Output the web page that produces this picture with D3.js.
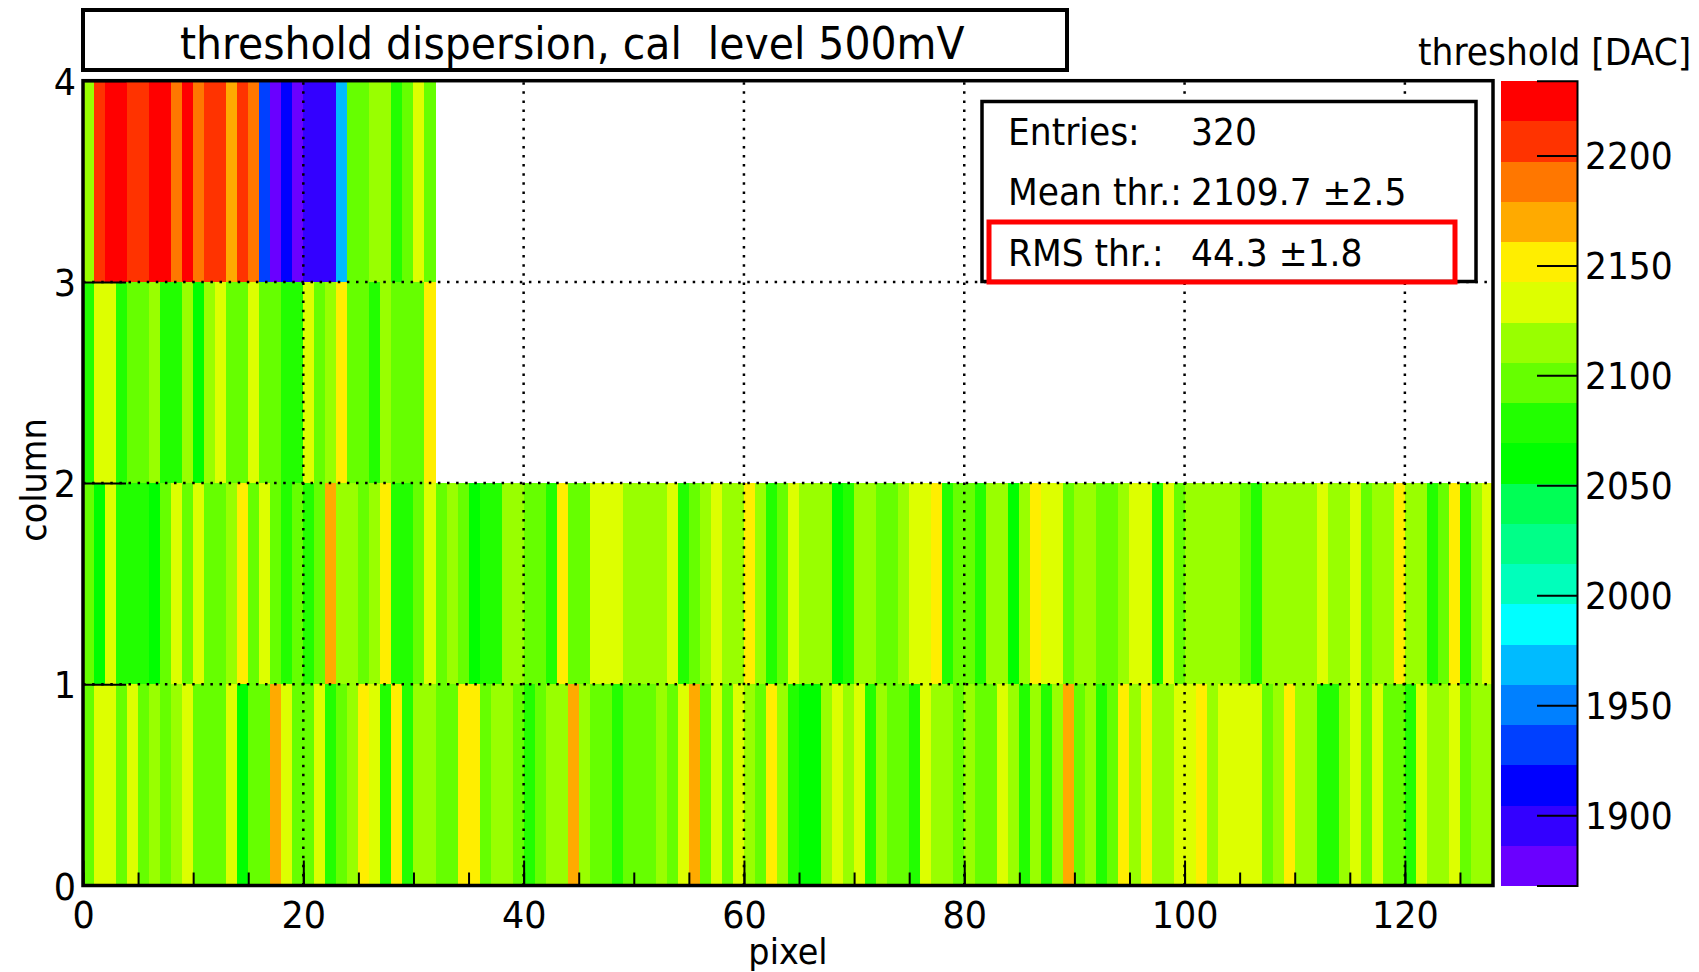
<!DOCTYPE html>
<html>
<head>
<meta charset="utf-8">
<script src="https://cdnjs.cloudflare.com/ajax/libs/d3/7.8.5/d3.min.js"></script>
<style>
  html, body { margin: 0; padding: 0; background: #fff; }
  svg { display: block; }
  text { font-family: "DejaVu Sans", sans-serif; fill: #000; white-space: pre; }
</style>
</head>
<body>
<svg id="chart" width="1699" height="972"></svg>
<script>
// thresholds in DAC, one list per column, index = pixel
const column0 = [
  2097, 2133, 2133, 2097, 2133, 2097, 2115, 2097, 2115, 2133,
  2097, 2097, 2097, 2133, 2060, 2097, 2097, 2170, 2133, 2097,
  2097, 2133, 2078, 2097, 2115, 2151, 2133, 2078, 2151, 2078,
  2115, 2115, 2097, 2097, 2151, 2151, 2097, 2115, 2115, 2097,
  2078, 2097, 2115, 2115, 2170, 2115, 2097, 2097, 2078, 2097,
  2097, 2097, 2115, 2097, 2133, 2170, 2097, 2133, 2097, 2133,
  2115, 2097, 2151, 2115, 2078, 2060, 2060, 2115, 2133, 2115,
  2133, 2078, 2115, 2097, 2097, 2078, 2133, 2115, 2115, 2097,
  2115, 2097, 2097, 2133, 2115, 2078, 2115, 2078, 2115, 2170,
  2097, 2115, 2078, 2097, 2151, 2115, 2151, 2115, 2115, 2133,
  2133, 2151, 2115, 2133, 2133, 2133, 2133, 2097, 2115, 2151,
  2115, 2115, 2078, 2078, 2115, 2133, 2097, 2133, 2097, 2097,
  2078, 2133, 2115, 2115, 2133, 2097, 2115, 2115
];
const column1 = [
  2097, 2060, 2133, 2078, 2078, 2078, 2060, 2097, 2133, 2097,
  2133, 2097, 2097, 2115, 2151, 2097, 2133, 2097, 2078, 2097,
  2078, 2097, 2170, 2115, 2115, 2097, 2115, 2151, 2078, 2078,
  2097, 2133, 2097, 2115, 2097, 2060, 2078, 2078, 2115, 2115,
  2097, 2097, 2078, 2151, 2097, 2097, 2133, 2133, 2133, 2115,
  2115, 2115, 2115, 2133, 2078, 2097, 2115, 2133, 2115, 2115,
  2151, 2115, 2078, 2097, 2133, 2115, 2115, 2115, 2060, 2078,
  2115, 2115, 2097, 2097, 2115, 2133, 2133, 2151, 2078, 2097,
  2097, 2078, 2115, 2115, 2060, 2115, 2151, 2133, 2133, 2097,
  2115, 2115, 2097, 2097, 2115, 2133, 2133, 2078, 2133, 2097,
  2115, 2115, 2115, 2115, 2115, 2097, 2078, 2115, 2115, 2115,
  2115, 2115, 2133, 2115, 2115, 2133, 2097, 2115, 2115, 2151,
  2115, 2115, 2078, 2097, 2151, 2078, 2115, 2133
];
const column2 = [
  2078, 2133, 2133, 2078, 2097, 2097, 2115, 2078, 2078, 2115,
  2060, 2115, 2133, 2097, 2097, 2133, 2097, 2097, 2078, 2078,
  2133, 2097, 2115, 2151, 2097, 2097, 2078, 2115, 2097, 2097,
  2097, 2151
];
const column3 = [
  2115, 2206, 2225, 2225, 2206, 2206, 2225, 2225, 2188, 2225,
  2188, 2206, 2206, 2170, 2206, 2188, 1932, 1877, 1914, 1877,
  1895, 1895, 1895, 1969, 2097, 2097, 2115, 2115, 2078, 2097,
  2133, 2097
];
const columns = [column0, column1, column2, column3];

// palette, lowest band first
const levelColors = [
  "#6a00ff", "#3300ff", "#0000ff", "#0040ff", "#0080ff",
  "#00bbff", "#00ffff", "#00ffbb", "#00ff88", "#00ff55",
  "#00ff00", "#22ff00", "#66ff00", "#99ff00", "#ddff00",
  "#ffee00", "#ffaa00", "#ff7700", "#ff3300", "#ff0000"
];
const zRange = [1868, 2234];
const zTicks = [1900, 1950, 2000, 2050, 2100, 2150, 2200];
const xMajorTicks = [0, 20, 40, 60, 80, 100, 120];
const xMinorTicks = d3.range(0, 128, 5);
const yTicks = [0, 1, 2, 3, 4];
const statLabels = ["Entries:", "Mean thr.:", "RMS thr.:"];
const statValues = ["320", "2109.7 \u00b12.5", "44.3 \u00b11.8"];

const stretch = 1.08; // the source image is a bit taller than wide
const fontSize = 35;

const svg = d3.select("#chart");

const x = d3.scaleLinear().domain([0, 128]).range([83, 1493]);
const y = d3.scaleLinear().domain([0, 4]).range([885.5, 80.7]);
const z = d3.scaleLinear().domain(zRange).range([885.5, 80.7]);
const color = d3.scaleQuantize().domain(zRange).range(levelColors);

function label(str, px, py, size, anchor) {
  return svg.append("text")
    .attr("transform", "translate(" + px + "," + py + ") scale(1," + stretch + ")")
    .attr("text-anchor", anchor || "start")
    .style("font-size", size + "px")
    .text(str);
}

// heat map
columns.forEach(function(values, col) {
  svg.append("g")
    .attr("shape-rendering", "crispEdges")
    .selectAll("rect")
    .data(values)
    .enter()
    .append("rect")
    .attr("x", function(d, i) { return x(i); })
    .attr("width", function(d, i) { return x(i + 1) - x(i) + 0.5; })
    .attr("y", y(col + 1))
    .attr("height", y(col) - y(col + 1))
    .attr("fill", function(d) { return color(d); });
});

// dotted grid
svg.append("g")
  .selectAll("line")
  .data(xMajorTicks.slice(1))
  .enter()
  .append("line")
  .attr("x1", function(d) { return x(d); })
  .attr("x2", function(d) { return x(d); })
  .attr("y1", y(0))
  .attr("y2", y(4))
  .attr("stroke", "#000")
  .attr("stroke-width", 2.5)
  .attr("stroke-dasharray", "2.5 6.6");

svg.append("g")
  .selectAll("line")
  .data(yTicks.slice(1, 4))
  .enter()
  .append("line")
  .attr("x1", x(0))
  .attr("x2", x(128))
  .attr("y1", function(d) { return y(d); })
  .attr("y2", function(d) { return y(d); })
  .attr("stroke", "#000")
  .attr("stroke-width", 2.5)
  .attr("stroke-dasharray", "2.5 6.6");

// axes
const xMinor = svg.append("g")
  .attr("transform", "translate(0," + y(0) + ")")
  .call(d3.axisBottom(x).tickValues(xMinorTicks).tickSize(-13).tickFormat(""));
xMinor.select(".domain").remove();
xMinor.selectAll("line").attr("stroke", "#000").attr("stroke-width", 2);

const xAxis = svg.append("g")
  .attr("transform", "translate(0," + y(0) + ")")
  .call(d3.axisBottom(x).tickValues(xMajorTicks).tickSize(-25).tickFormat(d3.format("d")));
xAxis.select(".domain").remove();
xAxis.selectAll("line").attr("stroke", "#000").attr("stroke-width", 2);
xAxis.selectAll("text")
  .attr("y", 39)
  .attr("dy", 0)
  .attr("transform", "scale(1," + stretch + ")")
  .style("font-size", fontSize + "px");

const yAxis = svg.append("g")
  .attr("transform", "translate(" + x(0) + ",0)")
  .call(d3.axisLeft(y).tickValues(yTicks).tickSize(-43).tickPadding(8).tickFormat(d3.format("d")));
yAxis.select(".domain").remove();
yAxis.selectAll("line").attr("stroke", "#000").attr("stroke-width", 2);
yAxis.selectAll("text")
  .attr("x", -7)
  .attr("dy", "0.36em")
  .attr("transform", "scale(1," + stretch + ")")
  .style("font-size", fontSize + "px");

// plot frame
svg.append("rect")
  .attr("x", x(0))
  .attr("y", y(4))
  .attr("width", x(128) - x(0))
  .attr("height", y(0) - y(4))
  .attr("fill", "none")
  .attr("stroke", "#000")
  .attr("stroke-width", 3.5);

label("pixel", 788, 964, 33.5, "middle");

svg.append("text")
  .attr("transform", "translate(46,480) rotate(-90) scale(1," + stretch + ")")
  .attr("text-anchor", "middle")
  .style("font-size", "33.5px")
  .text("column");

// title box
svg.append("rect")
  .attr("x", 83)
  .attr("y", 10)
  .attr("width", 984)
  .attr("height", 60)
  .attr("fill", "#fff")
  .attr("stroke", "#000")
  .attr("stroke-width", 4);

label("threshold dispersion, cal  level 500mV", 180, 59, 41, "start");

// stats box
svg.append("rect")
  .attr("x", 982)
  .attr("y", 101.5)
  .attr("width", 494)
  .attr("height", 180)
  .attr("fill", "#fff")
  .attr("stroke", "#000")
  .attr("stroke-width", 3.5);

const statBaselines = [145, 205, 265.5];
statLabels.forEach(function(s, i) {
  label(s, 1008, statBaselines[i], 34.5);
  label(statValues[i], 1191, statBaselines[i], 34.5);
});

svg.append("rect")
  .attr("x", 989)
  .attr("y", 222)
  .attr("width", 466)
  .attr("height", 60)
  .attr("fill", "none")
  .attr("stroke", "#ff0000")
  .attr("stroke-width", 5);

// colour bar
const bandEdges = color.thresholds();
const bandLow = [zRange[0]].concat(bandEdges);
const bandHigh = bandEdges.concat([zRange[1]]);

svg.append("g")
  .attr("shape-rendering", "crispEdges")
  .selectAll("rect")
  .data(levelColors)
  .enter()
  .append("rect")
  .attr("x", 1500.5)
  .attr("width", 76.5)
  .attr("y", function(d, i) { return z(bandHigh[i]); })
  .attr("height", function(d, i) { return z(bandLow[i]) - z(bandHigh[i]) + 0.5; })
  .attr("fill", function(d) { return d; });

const zAxis = svg.append("g")
  .attr("transform", "translate(1577,0)")
  .call(d3.axisRight(z).tickValues(zTicks).tickSize(-40).tickPadding(9).tickFormat(d3.format("d")));
zAxis.select(".domain").attr("stroke", "#000").attr("stroke-width", 2);
zAxis.selectAll("line").attr("stroke", "#000").attr("stroke-width", 2);
zAxis.selectAll("text")
  .attr("x", 8)
  .attr("dy", "0.36em")
  .attr("transform", "scale(1," + stretch + ")")
  .style("font-size", "34.5px");

label("threshold [DAC]", 1418, 65, 34.5, "start");
</script>
</body>
</html>
